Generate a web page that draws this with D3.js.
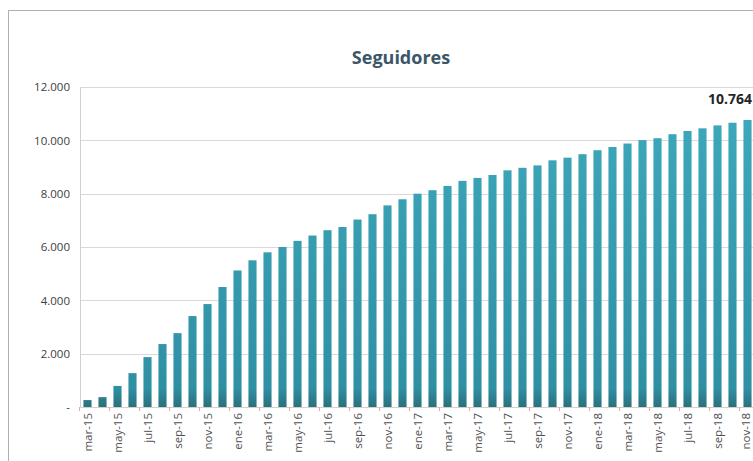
<!DOCTYPE html>
<html>
<head>
<meta charset="utf-8">
<script src="https://cdn.jsdelivr.net/npm/d3@7"></script>
<style>
  body { margin: 0; background: #fff; }
  svg { display: block; }
</style>
</head>
<body>
<div id="chart"></div>
<script>
// monthly followers, mar-15 .. nov-18
const months = ["mar-15","abr-15","may-15","jun-15","jul-15","ago-15","sep-15","oct-15","nov-15","dic-15",
  "ene-16","feb-16","mar-16","abr-16","may-16","jun-16","jul-16","ago-16","sep-16","oct-16","nov-16","dic-16",
  "ene-17","feb-17","mar-17","abr-17","may-17","jun-17","jul-17","ago-17","sep-17","oct-17","nov-17","dic-17",
  "ene-18","feb-18","mar-18","abr-18","may-18","jun-18","jul-18","ago-18","sep-18","oct-18","nov-18"];
const followers = [260, 370, 790, 1270, 1870, 2360, 2770, 3410, 3860, 4500,
  5120, 5500, 5800, 6000, 6230, 6430, 6630, 6750, 7030, 7230, 7560, 7790,
  8000, 8130, 8290, 8480, 8590, 8700, 8875, 8970, 9060, 9250, 9350, 9480,
  9630, 9750, 9880, 10010, 10080, 10230, 10350, 10450, 10560, 10660, 10764];
const yTicks = [0, 2000, 4000, 6000, 8000, 10000, 12000];

const data = months.map((m, i) => ({ month: m, value: followers[i] }));

const W = 753, H = 461;
const margin = { top: 87, right: -2, bottom: 54, left: 80 },
  width = W - margin.left - margin.right,
  height = H - margin.top - margin.bottom;

const svgRoot = d3.select("#chart")
  .append("svg")
  .attr("width", W)
  .attr("height", H);

// chart border
svgRoot.append("rect")
  .attr("x", 8.5).attr("y", 10.5)
  .attr("width", 800).attr("height", 500)
  .attr("fill", "none")
  .attr("stroke", "#b0b0b0");

const grad = svgRoot.append("defs").append("linearGradient")
  .attr("id", "barGrad")
  .attr("gradientUnits", "userSpaceOnUse")
  .attr("x1", 0).attr("y1", 0).attr("x2", 0).attr("y2", height);
grad.append("stop").attr("offset", "0%").attr("stop-color", "#3eaabd");
grad.append("stop").attr("offset", "94%").attr("stop-color", "#2f90a4");
grad.append("stop").attr("offset", "100%").attr("stop-color", "#2b707a");

svgRoot.append("text")
  .attr("x", 401).attr("y", 64)
  .attr("text-anchor", "middle")
  .style("font-family", "'Open Sans', sans-serif")
  .style("font-weight", "bold")
  .style("font-size", "18px")
  .attr("fill", "#3b5668")
  .text("Seguidores");

const svg = svgRoot.append("g")
  .attr("transform", `translate(${margin.left},${margin.top})`);

const x = d3.scaleBand()
  .range([0, width])
  .domain(months)
  .paddingInner(0.46)
  .paddingOuter(0.23);

const y = d3.scaleLinear()
  .domain([0, 12000])
  .range([height, 0]);

const fmt = d => d === 0 ? "-" : d3.format(",")(d).replace(/,/g, ".");

// gridlines
svg.append("g")
  .selectAll("line")
  .data(yTicks)
  .join("line")
  .attr("x1", 0).attr("x2", width)
  .attr("y1", d => Math.round(y(d)) + 0.5)
  .attr("y2", d => Math.round(y(d)) + 0.5)
  .attr("stroke", "#d9d9d9");

// Y axis
const yAxis = svg.append("g")
  .call(d3.axisLeft(y).tickValues(yTicks).tickFormat(fmt).tickSize(0).tickPadding(10));
yAxis.select(".domain").remove();
yAxis.selectAll("text")
  .style("font-family", "'Open Sans', sans-serif")
  .style("font-size", "11.5px")
  .attr("fill", "#404040");

svg.append("line")
  .attr("x1", 0.5).attr("x2", 0.5)
  .attr("y1", 0).attr("y2", height)
  .attr("stroke", "#d0d0d0");

// bars
svg.selectAll("rect.bar")
  .data(data)
  .join("rect")
  .attr("class", "bar")
  .attr("x", d => x(d.month))
  .attr("width", x.bandwidth())
  .attr("y", d => y(d.value))
  .attr("height", d => height - y(d.value))
  .attr("fill", "url(#barGrad)");

// X axis, every second month labelled
const labelled = months.filter((m, i) => i % 2 === 0);
const xAxis = svg.append("g")
  .attr("transform", `translate(0, ${height})`)
  .call(d3.axisBottom(x)
    .tickValues(labelled)
    .tickSize(0).tickPadding(0));
xAxis.select(".domain").attr("stroke", "#d0d0d0");
xAxis.selectAll("text")
  // last label sits at the right edge, nudge it in so it is not clipped
  .attr("transform", d => `translate(${d === months[months.length - 1] ? -2 : 0},6)rotate(-90)`)
  .attr("dy", "0.35em")
  .attr("x", 0).attr("y", 0)
  .style("text-anchor", "end")
  .style("font-family", "'Open Sans', sans-serif")
  .style("font-size", "11.5px")
  .attr("fill", "#505050");

// small tick marks between label pairs
const step = x.step();
svg.append("g")
  .selectAll("line")
  .data(labelled)
  .join("line")
  .attr("x1", d => Math.round(x(d) - step * 0.27) + 0.5)
  .attr("x2", d => Math.round(x(d) - step * 0.27) + 0.5)
  .attr("y1", height).attr("y2", height + 4)
  .attr("stroke", "#e0a8a8");

// data label for last month
const last = data[data.length - 1];
svg.append("text")
  .attr("x", Math.min(x(last.month) + x.bandwidth() / 2 + 26, W - margin.left - 1))
  .attr("y", y(last.value) - 16)
  .attr("text-anchor", "end")
  .style("font-family", "'Open Sans', sans-serif")
  .style("font-weight", "bold")
  .style("font-size", "14px")
  .attr("fill", "#262626")
  .text(fmt(last.value));
</script>
</body>
</html>
